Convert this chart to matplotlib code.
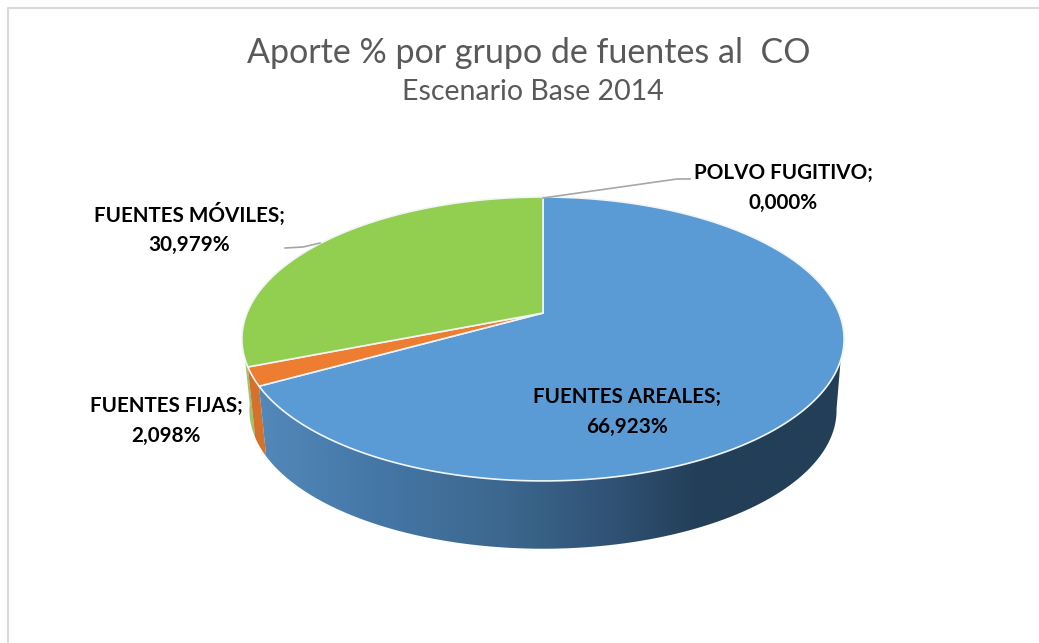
import numpy as np
import matplotlib
matplotlib.use("Agg")
import matplotlib.pyplot as plt
from matplotlib.colors import LinearSegmentedColormap
from matplotlib.patches import Polygon

categories = ["FUENTES AREALES", "FUENTES FIJAS", "FUENTES MÓVILES", "POLVO FUGITIVO"]
values = [66.923, 2.098, 30.979, 0.000]
value_labels = ["66,923%", "2,098%", "30,979%", "0,000%"]
colors = ["#5B9BD5", "#ED7D31", "#92CE50", "#A5A5A5"]
title = "Aporte % por grupo de fuentes al  CO"
subtitle = "Escenario Base 2014"

plt.rcParams["font.family"] = ["Lato", "DejaVu Sans"]
W, H = 1039, 643
fig = plt.figure(figsize=(W / 100, H / 100), dpi=100)
ax = fig.add_axes([0, 0, 1, 1])
ax.set_xlim(0, W)
ax.set_ylim(H, 0)
ax.axis("off")

# Perspective projection of the pie disc
CX, CY, A, B, K = 543, 313, 296.0, 137.2, 0.183
SCALE, DEPTH = 0.975, 72


def top(t):
    u, v = np.cos(np.radians(t)), np.sin(np.radians(t))
    w = 1 + K * v
    return CX + A * u / w, CY - B * v / w


def bottom(t):
    x, y = top(t)
    return CX + (x - CX) * SCALE, CY + (y - CY) * SCALE + DEPTH


def arc(a, b, f=top, n=160):
    return np.column_stack(f(np.linspace(a, b, n)))


# clockwise from 12 o'clock
cum = np.concatenate([[0], np.cumsum(values)])
angles = 90 - 3.6 * cum
a_end, f_end = angles[1], angles[2]

# side walls, back to front
green_wall = np.vstack([arc(f_end, -172), arc(-172, f_end, bottom)])
ax.add_patch(Polygon(green_wall, fc="#9CC46C", ec="none", zorder=1))
orange_wall = np.vstack([arc(a_end, f_end), arc(f_end, a_end, bottom)])
ax.add_patch(Polygon(orange_wall, fc="#D4722C", ec="none", zorder=2))

blue_wall = np.vstack([arc(a_end, -19), arc(-10, a_end, bottom)])
clip = Polygon(blue_wall, fc="none", ec="none", transform=ax.transData)
ax.add_patch(clip)
cmap = LinearSegmentedColormap.from_list(
    "wall",
    [(0.0, "#5288BA"), (0.2, "#4577A6"), (0.42, "#3C678E"), (0.62, "#2F5072"),
     (0.75, "#233F58"), (1.0, "#233F58")],
)
grad = np.linspace(0, 1, 600).reshape(1, -1)
im = ax.imshow(grad, cmap=cmap, extent=(258, 845, 560, 350), aspect="auto", zorder=3,
               interpolation="bilinear")
im.set_clip_path(clip)
ax.set_xlim(0, W)
ax.set_ylim(H, 0)

# top face slices
apex = np.array([[CX, CY]])
for i, col in enumerate(colors):
    if values[i] == 0:
        continue
    pts = np.vstack([apex, arc(angles[i], angles[i + 1], n=300)])
    ax.add_patch(Polygon(pts, fc=col, ec="#F2F5F7", lw=1.2, joinstyle="round", zorder=4 + i))

# frame
ax.plot([7.5, 7.5, W], [H, 7.5, 7.5], color="#D9D9D9", lw=1.5, zorder=0)

# leader lines
ax.plot([543, 677, 690], [198, 179, 179], color="#A6A6A6", lw=1.2, zorder=8)
ax.plot([285, 303, 320], [248, 247, 243], color="#A6A6A6", lw=1.2, zorder=8)

# titles
ax.text(529, 53, title, ha="center", va="center", fontsize=24.5, color="#595959")
ax.text(533, 92, subtitle, ha="center", va="center", fontsize=20.5, color="#595959")

# data labels
positions = {0: (627, 412), 1: (166, 421), 2: (189, 229), 3: (783, 188)}
for i, name in enumerate(categories):
    x, y = positions[i]
    ax.text(x, y, f"{name};\n{value_labels[i]}", ha="center", va="center", fontsize=14.9,
            fontweight="bold", color="black", linespacing=1.6, zorder=9)

fig.savefig("out.png", dpi=100, facecolor="white")
